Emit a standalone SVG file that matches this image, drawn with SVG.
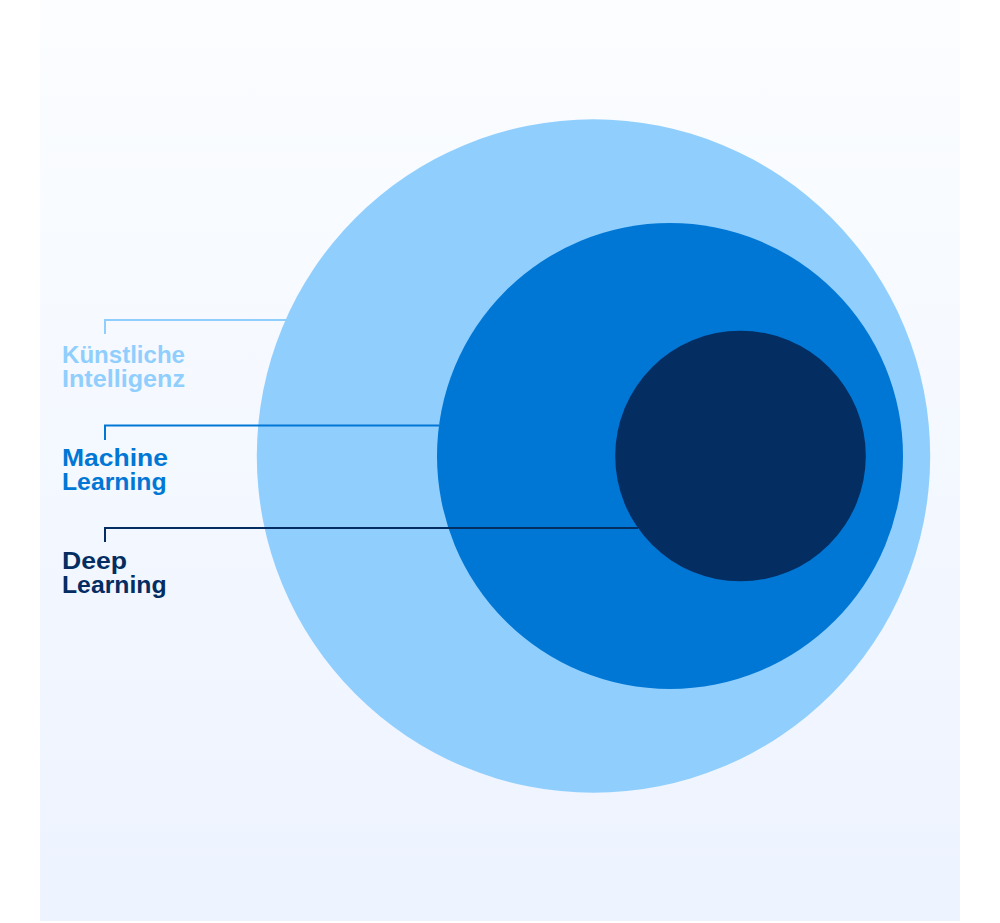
<svg xmlns="http://www.w3.org/2000/svg" width="1000" height="923" viewBox="0 0 1000 923">
<defs>
<linearGradient id="bg" x1="0" y1="0" x2="0" y2="1">
<stop offset="0" stop-color="#FBFDFF"/>
<stop offset="1" stop-color="#EDF3FF"/>
</linearGradient>
<style>
.lbl{font-family:"Liberation Sans",Arial,sans-serif;font-weight:700;font-size:24px}
.ln{fill:none;stroke-width:2}
</style>
</defs>
<rect x="0" y="0" width="1000" height="923" fill="#FFFFFF"/>
<rect x="40" y="0" width="920" height="921" fill="url(#bg)"/>
<g id="ki">
<circle cx="593.5" cy="456" r="336.7" fill="#90CFFD"/>
</g>
<g id="ml">
<circle cx="670" cy="456" r="233" fill="#0077D5"/>
</g>
<g id="dl">
<circle cx="740.5" cy="456" r="125.3" fill="#042D62"/>
</g>
<g id="connectors">
<path class="ln" stroke="#90CFFD" d="M105,334 V320 H288"/>
<path class="ln" stroke="#0077D5" d="M105,440 V425.5 H439"/>
<path class="ln" stroke="#042D62" d="M105,542 V528 H638"/>
</g>
<g id="label-ki">
<text class="lbl" fill="#90CFFD"><tspan x="62" y="363" textLength="123" lengthAdjust="spacingAndGlyphs">Künstliche</tspan><tspan x="62" y="387" textLength="123" lengthAdjust="spacingAndGlyphs">Intelligenz</tspan></text>
</g>
<g id="label-ml">
<text class="lbl" fill="#0077D5"><tspan x="62" y="466" textLength="106" lengthAdjust="spacingAndGlyphs">Machine</tspan><tspan x="62" y="490" textLength="104.5" lengthAdjust="spacingAndGlyphs">Learning</tspan></text>
</g>
<g id="label-dl">
<text class="lbl" fill="#042D62"><tspan x="62" y="569" textLength="65" lengthAdjust="spacingAndGlyphs">Deep</tspan><tspan x="62" y="593" textLength="104.5" lengthAdjust="spacingAndGlyphs">Learning</tspan></text>
</g>
</svg>
